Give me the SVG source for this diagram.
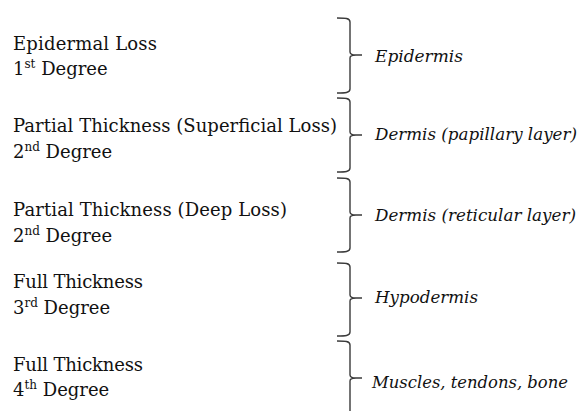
<svg xmlns="http://www.w3.org/2000/svg" width="582" height="411" viewBox="0 0 582 411">
<style>
.t{font-family:"DejaVu Serif","Liberation Serif",serif;font-size:18px;fill:#111}
.i{font-family:"DejaVu Serif","Liberation Serif",serif;font-size:17px;font-style:italic;fill:#111}
.sup{font-size:12px}
.br{fill:none;stroke:#3a3a3a;stroke-width:1.4}
</style>
<rect width="582" height="411" fill="#fff"/>
<g id="connectors">
<path class="br" d="M337,18 C345,18 350,18 350,22 V52 C350,54 352,55 356,55 H362 M356,55 C352,55 350,56 350,58 V89 C350,93 345,93 337,93"/>
<path class="br" d="M337,98 C345,98 350,98 350,102 V132 C350,134 352,135 356,135 H362 M356,135 C352,135 350,136 350,138 V168 C350,172 345,172 337,172"/>
<path class="br" d="M337,178 C345,178 350,178 350,182 V212 C350,214 352,215 356,215 H362 M356,215 C352,215 350,216 350,218 V248 C350,252 345,252 337,252"/>
<path class="br" d="M337,263 C345,263 350,263 350,267 V295 C350,297 352,298 356,298 H362 M356,298 C352,298 350,299 350,301 V332 C350,336 345,336 337,336"/>
<path class="br" d="M337,341 C345,341 350,341 350,345 V375 C350,377 352,378 356,378 H362 M356,378 C352,378 350,379 350,381 V411"/>
</g>
<g id="n1">
<text class="t" x="13" y="49.5" textLength="144" lengthAdjust="spacing">Epidermal Loss</text>
<text class="t" x="13" y="75">1<tspan class="sup" dy="-7">st</tspan><tspan dy="7"> Degree</tspan></text>
<text class="i" x="375" y="62" textLength="88" lengthAdjust="spacingAndGlyphs">Epidermis</text>
</g>
<g id="n2">
<text class="t" x="13" y="131.7" textLength="324" lengthAdjust="spacing">Partial Thickness (Superficial Loss)</text>
<text class="t" x="13" y="158">2<tspan class="sup" dy="-7">nd</tspan><tspan dy="7"> Degree</tspan></text>
<text class="i" x="375" y="140" textLength="202" lengthAdjust="spacingAndGlyphs">Dermis (papillary layer)</text>
</g>
<g id="n3">
<text class="t" x="13" y="215.7" textLength="274" lengthAdjust="spacing">Partial Thickness (Deep Loss)</text>
<text class="t" x="13" y="241.5">2<tspan class="sup" dy="-7">nd</tspan><tspan dy="7"> Degree</tspan></text>
<text class="i" x="375" y="221" textLength="201" lengthAdjust="spacingAndGlyphs">Dermis (reticular layer)</text>
</g>
<g id="n4">
<text class="t" x="13" y="288.3" textLength="130" lengthAdjust="spacing">Full Thickness</text>
<text class="t" x="13" y="313.5">3<tspan class="sup" dy="-7">rd</tspan><tspan dy="7"> Degree</tspan></text>
<text class="i" x="375" y="303" textLength="103" lengthAdjust="spacingAndGlyphs">Hypodermis</text>
</g>
<g id="n5">
<text class="t" x="13" y="371" textLength="130" lengthAdjust="spacing">Full Thickness</text>
<text class="t" x="13" y="396">4<tspan class="sup" dy="-7">th</tspan><tspan dy="7"> Degree</tspan></text>
<text class="i" x="372" y="388" textLength="196" lengthAdjust="spacingAndGlyphs">Muscles, tendons, bone</text>
</g>
</svg>
